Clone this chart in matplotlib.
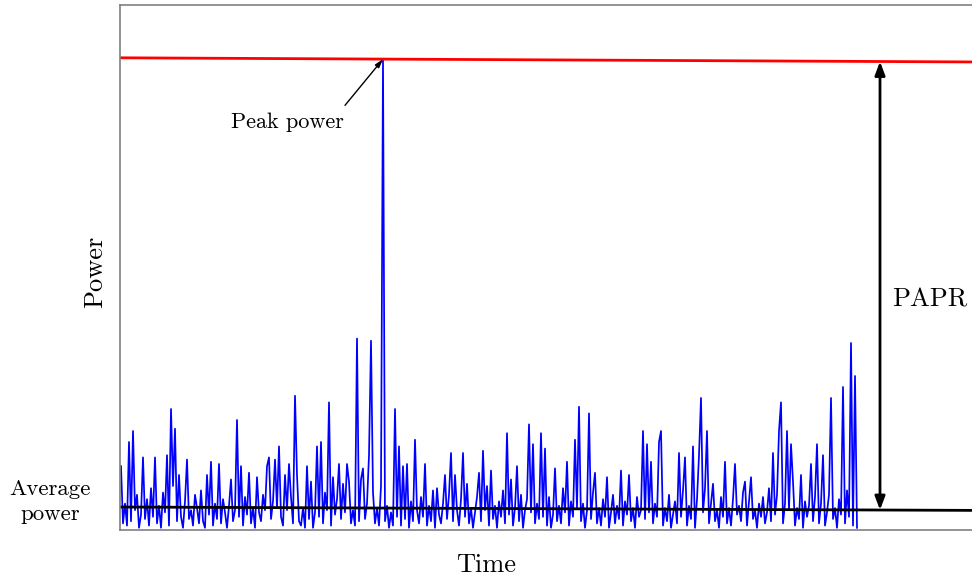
import matplotlib
matplotlib.use('Agg')
import matplotlib.pyplot as plt
import numpy as np

# instantaneous power of the signal (units: average power = 1)
power = [
    2.9, 0.3, 1.2, 0.2, 4.0, 0.4, 4.5, 0.9, 1.6, 0.1,
    0.7, 3.3, 0.5, 1.4, 0.2, 1.9, 0.6, 3.3, 0.3, 1.1,
    0.1, 1.7, 0.8, 3.4, 0.2, 5.5, 2.0, 4.6, 0.4, 2.5,
    0.6, 0.1, 1.3, 3.2, 0.5, 0.9, 0.2, 1.6, 1.0, 0.3,
    1.8, 0.4, 0.1, 2.5, 0.7, 3.1, 0.2, 1.2, 0.5, 3.0,
    0.3, 1.4, 0.8, 0.1, 1.1, 2.3, 0.4, 0.9, 5.0, 0.6,
    2.9, 0.2, 1.5, 0.7, 2.6, 0.3, 1.0, 0.1, 2.4, 0.8,
    0.4, 1.6, 0.9, 2.9, 3.3, 0.5, 1.3, 3.2, 1.0, 3.8,
    0.6, 0.2, 2.5, 0.9, 3.0, 1.5, 0.3, 6.1, 2.5, 0.4,
    0.2, 1.0, 0.1, 2.9, 0.5, 2.2, 0.1, 0.8, 3.8, 0.6,
    4.0, 0.3, 1.7, 0.9, 5.8, 0.2, 2.4, 0.7, 1.4, 3.0,
    0.5, 2.1, 0.8, 3.0, 2.2, 0.3, 0.9, 0.2, 8.7, 0.4,
    2.3, 2.8, 0.5, 1.2, 3.4, 8.6, 1.7, 0.3, 1.0, 0.2,
    2.0, 21.4, 0.4, 1.1, 0.1, 0.8, 0.2, 5.5, 0.6, 3.8,
    0.2, 2.9, 0.5, 3.0, 0.1, 1.3, 0.4, 4.1, 0.9, 0.3,
    1.5, 0.6, 3.0, 0.2, 1.1, 0.4, 1.8, 0.1, 1.9, 0.7,
    0.3, 1.2, 2.5, 0.5, 1.6, 3.5, 0.4, 2.5, 0.9, 0.2,
    1.4, 3.5, 0.6, 2.1, 0.3, 1.0, 0.1, 0.8, 1.5, 2.6,
    0.4, 3.6, 0.9, 2.0, 0.2, 2.7, 0.5, 1.1, 0.1, 1.3,
    0.6, 1.8, 0.3, 4.4, 0.7, 2.3, 0.2, 1.0, 2.9, 0.4,
    1.6, 0.1, 0.9, 1.4, 4.8, 0.8, 3.9, 0.3, 1.2, 0.5,
    4.4, 0.6, 3.7, 0.2, 1.5, 0.1, 0.7, 2.8, 0.4, 1.1,
    0.3, 1.9, 0.8, 3.1, 0.2, 1.3, 0.6, 4.1, 1.0, 5.6,
    0.4, 1.2, 0.1, 0.9, 5.3, 0.5, 1.7, 2.6, 0.3, 1.0,
    0.2, 1.4, 0.6, 2.4, 0.1, 0.8, 1.6, 0.3, 1.1, 0.5,
    2.7, 0.2, 1.3, 0.7, 2.5, 0.4, 1.0, 0.1, 1.5, 0.6,
    0.9, 4.5, 0.5, 3.9, 0.8, 3.1, 0.3, 1.2, 0.6, 4.0,
    4.5, 0.2, 1.0, 0.4, 1.6, 0.1, 0.7, 1.3, 0.3, 3.5,
    0.6, 1.8, 3.3, 0.2, 1.1, 0.5, 3.8, 0.1, 1.4, 3.4,
    6.0, 0.8, 1.9, 4.5, 0.3, 1.2, 2.1, 0.4, 0.9, 0.1,
    1.5, 0.6, 3.1, 0.3, 1.0, 0.2, 1.4, 3.0, 0.7, 1.1,
    0.4, 1.7, 2.2, 0.2, 1.3, 2.4, 0.5, 0.9, 0.1, 1.2,
    0.6, 1.5, 0.3, 0.8, 1.9, 0.4, 3.5, 0.7, 1.6, 4.5,
    5.8, 0.3, 1.2, 4.5, 0.9, 3.9, 2.2, 0.2, 1.0, 0.5,
    2.5, 0.1, 1.3, 0.6, 1.1, 3.0, 0.4, 1.5, 3.9, 0.3,
    1.2, 3.4, 0.2, 0.8, 1.6, 6.0, 0.5, 1.0, 0.1, 1.4,
    0.7, 6.5, 0.3, 1.8, 0.6, 8.5, 0.2, 7.0, 0.1,
]

# reference levels (start, end) - drawn slightly tilted as in the original
peak_level = [21.46, 21.27]
avg_level = [1.045, 0.89]

t = np.arange(len(power))
x_lim = [-0.5, 429.5]
papr_x = 379.5

plt.rcParams['font.family'] = ['cmr10', 'DejaVu Serif']
plt.rcParams['axes.unicode_minus'] = False

fig = plt.figure(figsize=(9.72, 5.76), dpi=100)
ax = fig.add_axes([120/972, 46/576, 860/972, 525/576])

ax.plot(t, power, color='blue', lw=1.25)
ax.plot(x_lim, peak_level, color='red', lw=2.0)
ax.plot(x_lim, avg_level, color='black', lw=2.0)

# PAPR double arrow
y_top = peak_level[0] + (peak_level[1] - peak_level[0]) * (papr_x - x_lim[0]) / (x_lim[1] - x_lim[0])
y_bot = avg_level[0] + (avg_level[1] - avg_level[0]) * (papr_x - x_lim[0]) / (x_lim[1] - x_lim[0])
ax.annotate('', xy=(papr_x, y_top), xytext=(papr_x, y_bot),
            arrowprops=dict(arrowstyle='<|-|>, head_width=0.3, head_length=0.8',
                            color='black', lw=2.0, shrinkA=0, shrinkB=0))
ax.text(385.5, 10.45, 'PAPR', fontsize=19, ha='left', va='center')

# peak annotation
ax.text(83, 18.55, 'Peak power', fontsize=16, ha='center', va='center')
ax.annotate('', xy=(131, 21.4), xytext=(112, 19.3),
            arrowprops=dict(arrowstyle='-|>, head_width=0.15, head_length=0.5',
                            color='black', lw=1.0, shrinkA=0, shrinkB=0))

ax.set_xlim(x_lim)
ax.set_ylim(0, 23.86)
ax.set_xticks([])
ax.set_yticks([])
for s in ax.spines.values():
    s.set_color('#808080')
    s.set_linewidth(1.2)

fig.text(95/972, 1 - 272/576, 'Power', fontsize=19, rotation=90, ha='center', va='center')
fig.text(486/972, 1 - 565/576, 'Time', fontsize=19, ha='center', va='center')
fig.text(50/972, 1 - 502/576, 'Average\npower', fontsize=16.5, ha='center', va='center',
         linespacing=1.35)

fig.savefig('out.png', dpi=100)
